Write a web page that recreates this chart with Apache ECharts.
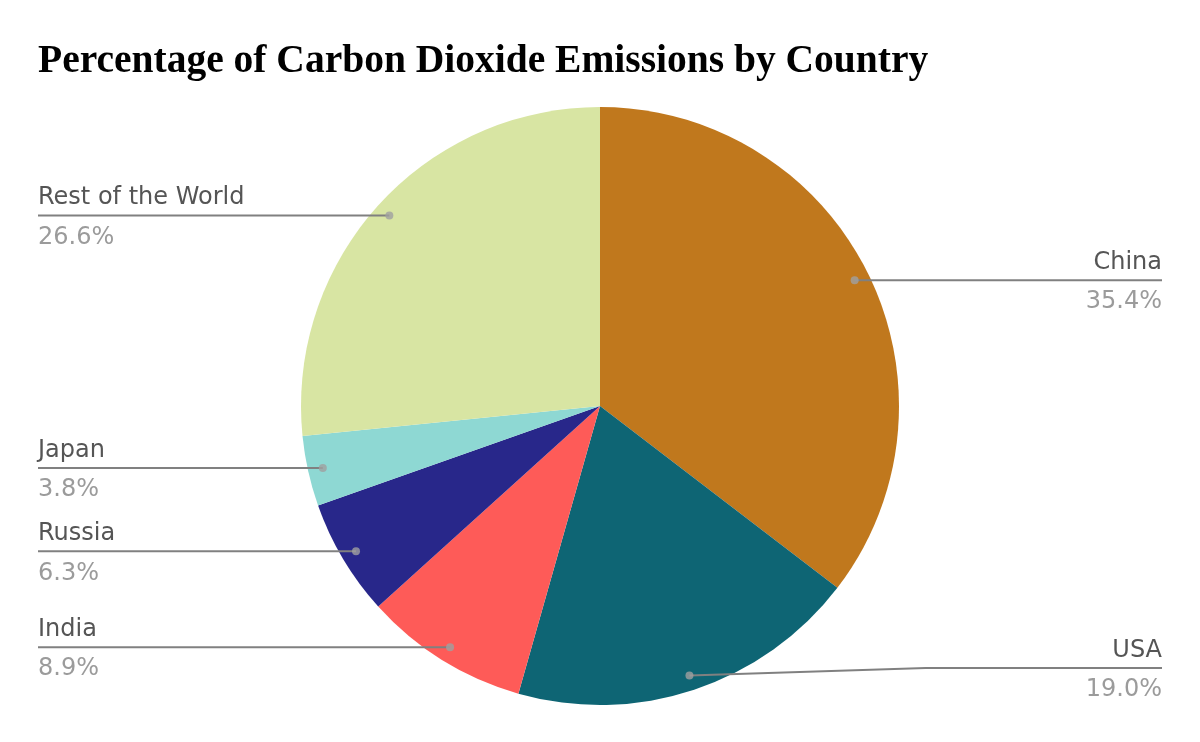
<!DOCTYPE html>
<html>
<head>
<meta charset="utf-8">
<title>Percentage of Carbon Dioxide Emissions by Country</title>
<script src="https://cdn.jsdelivr.net/npm/echarts@6/dist/echarts.min.js"></script>
<style>
  html, body { margin: 0; padding: 0; background: #fff; }
  #chart { width: 1200px; height: 742px; }
</style>
</head>
<body>
<div id="chart"></div>
<script>
'use strict';

var countries = ['China', 'USA', 'India', 'Russia', 'Japan', 'Rest of the World'];
var shares = [35.4, 19.0, 8.9, 6.3, 3.8, 26.6];
var sliceColors = ['#c0781d', '#0e6574', '#fe5b58', '#28278a', '#8ed8d3', '#d8e5a3'];

// layout
var CX = 600, CY = 406, R = 299, DOT_R = 284;

// mid point of every slice (in percent) for the little dots
var midShares = [];
var run = 0;
shares.forEach(function (v) {
  midShares.push(run + v / 2);
  run += v;
});

var chart = echarts.init(document.getElementById('chart'));

chart.setOption({
  animation: false,
  backgroundColor: '#fff',
  title: {
    text: 'Percentage of Carbon Dioxide Emissions by Country',
    left: 33,
    top: 37,
    textStyle: {
      fontFamily: "'Liberation Serif', 'Times New Roman', serif",
      fontWeight: 'bold',
      fontSize: 39.5,
      color: '#000',
    },
  },
  polar: {
    center: [CX, CY],
    radius: R,
  },
  angleAxis: {
    type: 'value',
    min: 0,
    max: 100,
    startAngle: 90,
    clockwise: true,
    show: false,
  },
  radiusAxis: {
    type: 'value',
    min: 0,
    max: R,
    show: false,
  },
  series: [{
    // the visible pie
    type: 'pie',
    center: [CX, CY],
    radius: [0, R],
    startAngle: 90,
    clockwise: true,
    silent: true,
    label: { show: false },
    labelLine: { show: false },
    data: countries.map(function (name, i) {
      return { name: name, value: shares[i], itemStyle: { color: sliceColors[i] } };
    }),
  }, {
    // transparent pie that only carries the labels, lines start at the dots
    type: 'pie',
    center: [CX, CY],
    radius: [0, DOT_R],
    bottom: 38,
    startAngle: 90,
    clockwise: true,
    silent: true,
    z: 4,
    itemStyle: { color: 'rgba(0,0,0,0)' },
    data: countries.map(function (name, i) {
      return { name: name, value: shares[i] };
    }),
    label: {
      alignTo: 'edge',
      edgeDistance: 38,
      minMargin: 4,
      formatter: function (p) {
        return '{name|' + p.name + '}\n{pct|' + p.value.toFixed(1) + '%}';
      },
      rich: {
        name: {
          fontFamily: 'DejaVu Sans',
          fontSize: 24,
          color: '#555',
          lineHeight: 44,
        },
        pct: {
          fontFamily: 'DejaVu Sans',
          fontSize: 24,
          color: '#9b9b9b',
          lineHeight: 35,
        },
      },
    },
    labelLine: {
      length: 0,
      length2: 0,
      lineStyle: { color: '#808080', width: 2 },
    },
    labelLayout: function (params) {
      var isLeft = params.labelRect.x < chart.getWidth() / 2;
      var points = params.labelLinePoints;
      if (!points) return {};
      points[2][0] = isLeft ? params.labelRect.x : params.labelRect.x + params.labelRect.width;
      points[1] = [(points[0][0] + points[2][0]) / 2, points[2][1]];
      return { labelLinePoints: points };
    },
  }, {
    type: 'scatter',
    coordinateSystem: 'polar',
    z: 5,
    silent: true,
    symbol: 'circle',
    symbolSize: 8,
    itemStyle: { color: '#a0a0a0' },
    data: midShares.map(function (m) {
      return [DOT_R, m];
    }),
  }],
});
</script>
</body>
</html>
